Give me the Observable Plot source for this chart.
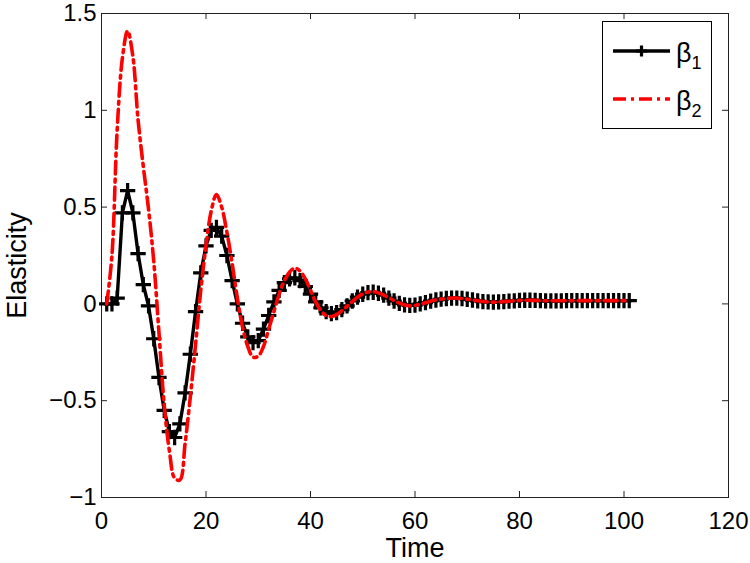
<!DOCTYPE html>
<html><head><meta charset="utf-8">
<script src="https://cdn.jsdelivr.net/npm/d3@7"></script>
<script src="https://cdn.jsdelivr.net/npm/@observablehq/plot@0.6"></script>
<style>
body{margin:0;background:#fff;}
#wrap{position:relative;width:750px;height:563px;font-family:"Liberation Sans",Arial,sans-serif;}
#legend{position:absolute;left:602px;top:21px;}
</style></head><body><div id="wrap"></div>
<script>
const time = [1,2,3,4,5,6,7,8,9,10,11,12,13,14,15,16,17,18,19,20,21,22,23,24,25,26,27,28,29,30,31,32,33,34,35,36,37,38,39,40,41,42,43,44,45,46,47,48,49,50,51,52,53,54,55,56,57,58,59,60,61,62,63,64,65,66,67,68,69,70,71,72,73,74,75,76,77,78,79,80,81,82,83,84,85,86,87,88,89,90,91,92,93,94,95,96,97,98,99,100,101];
const beta1 = [0,0,0.03,0.47,0.585,0.47,0.26,0.10,-0.01,-0.18,
  -0.38,-0.55,-0.66,-0.69,-0.62,-0.46,-0.26,-0.04,0.16,0.30,
  0.38,0.395,0.35,0.25,0.12,0.0,-0.10,-0.17,-0.20,-0.19,
  -0.13,-0.06,0.01,0.07,0.11,0.13,0.135,0.12,0.09,0.05,
  0.01,-0.02,-0.04,-0.05,-0.045,-0.03,-0.01,0.015,0.035,0.05,
  0.058,0.06,0.055,0.045,0.03,0.015,0.003,-0.005,-0.008,-0.006,
  0.0,0.007,0.014,0.02,0.025,0.028,0.03,0.03,0.028,0.024,
  0.02,0.016,0.012,0.01,0.009,0.01,0.012,0.014,0.016,0.018,
  0.019,0.019,0.018,0.017,0.016,0.016,0.016,0.016,0.017,0.017,
  0.017,0.017,0.017,0.017,0.017,0.017,0.017,0.017,0.017,0.017,0.017];
const beta2 = [0,0.25,0.9,1.27,1.41,1.28,0.95,0.71,0.49,0.22,
  -0.15,-0.52,-0.76,-0.90,-0.91,-0.72,-0.48,-0.21,0.07,0.30,
  0.48,0.565,0.50,0.37,0.21,0.03,-0.12,-0.22,-0.275,-0.27,
  -0.22,-0.13,-0.04,0.05,0.12,0.165,0.185,0.17,0.13,0.07,
  0.01,-0.035,-0.06,-0.065,-0.055,-0.035,-0.012,0.012,0.035,0.052,
  0.062,0.063,0.057,0.046,0.032,0.017,0.004,-0.006,-0.01,-0.008,
  -0.002,0.006,0.014,0.02,0.025,0.028,0.03,0.03,0.028,0.024,
  0.02,0.016,0.012,0.01,0.009,0.01,0.012,0.014,0.016,0.018,
  0.019,0.019,0.018,0.017,0.016,0.016,0.016,0.016,0.017,0.017,
  0.017,0.017,0.017,0.017,0.017,0.017,0.017,0.017,0.017,0.017,0.017];
const xTicks = [0,20,40,60,80,100,120];
const yTicks = [-1,-0.5,0,0.5,1,1.5];
const yTickLabels = ["−1","−0.5","0","0.5","1","1.5"];
const seriesNames = ["β", "β"];
const seriesSubs = ["1", "2"];
const seriesColors = ["#000000", "#ff0000"];
const xLabel = "Time";
const yLabel = "Elasticity";

const data1 = time.map((t, i) => ({t, v: beta1[i]}));
const data2 = time.map((t, i) => ({t, v: beta2[i]}));

const W = 750, H = 563, mL = 101, mR = 22, mT = 13, mB = 66;
const fw = W - mL - mR, fh = H - mT - mB;
const tk = 6;
const axisColor = "#222";
const fs = 24;
const lfs = 27;

const chart = Plot.plot({
  width: W, height: H,
  marginLeft: mL, marginRight: mR, marginTop: mT, marginBottom: mB,
  style: {fontFamily: "'Liberation Sans', Arial, sans-serif", fontSize: fs + "px", color: "#000", background: "#fff", overflow: "visible"},
  x: {domain: [0, 120]},
  y: {domain: [-1, 1.5]},
  marks: [
    Plot.frame({stroke: axisColor, strokeWidth: 1}),
    Plot.ruleX(xTicks, {x: d => d, insetTop: fh - tk, stroke: axisColor}),
    Plot.ruleX(xTicks, {x: d => d, insetBottom: fh - tk, stroke: axisColor}),
    Plot.ruleY(yTicks, {y: d => d, insetRight: fw - tk, stroke: axisColor}),
    Plot.ruleY(yTicks, {y: d => d, insetLeft: fw - tk, stroke: axisColor}),
    Plot.axisX({ticks: xTicks, tickSize: 0, tickPadding: 14, label: null, fontSize: fs, tickFormat: d => String(d)}),
    Plot.axisY({ticks: yTicks, tickSize: 0, tickPadding: 5, label: null, fontSize: fs, tickFormat: d => yTickLabels[yTicks.indexOf(d)]}),
    Plot.line(data1, {x: "t", y: "v", stroke: seriesColors[0], strokeWidth: 3.4}),
    Plot.dot(data1, {x: "t", y: "v", symbol: "plus", r: 5, stroke: seriesColors[0], strokeWidth: 3.2}),
    Plot.line(data2, {x: "t", y: "v", stroke: seriesColors[1], strokeWidth: 3.6, strokeDasharray: "13,5,3,5", curve: "catmull-rom"}),
    Plot.text([xLabel], {frameAnchor: "bottom", textAnchor: "middle", lineAnchor: "bottom", dy: 59, fontSize: lfs}),
    Plot.text([yLabel], {frameAnchor: "left", textAnchor: "middle", lineAnchor: "middle", rotate: -90, dx: -84, dy: 10, fontSize: lfs})
  ]
});

const wrap = document.getElementById("wrap");
wrap.appendChild(chart);

// legend
const lg = d3.select(wrap).append("svg").attr("id", "legend")
  .attr("width", 112).attr("height", 110)
  .style("font-family", "'Liberation Sans', Arial, sans-serif");
lg.append("rect").attr("x", 0.5).attr("y", 0.5).attr("width", 109).attr("height", 107)
  .attr("fill", "#fff").attr("stroke", "#000");
seriesNames.forEach((name, i) => {
  const y = 30 + i * 48;
  lg.append("line").attr("x1", 11).attr("x2", 68).attr("y1", y).attr("y2", y)
    .attr("stroke", seriesColors[i]).attr("stroke-width", i === 0 ? 3.4 : 3.6)
    .attr("stroke-dasharray", i === 0 ? null : "13,5,3,5");
  if (i === 0) {
    lg.append("path").attr("d", `M39.5,${y - 5.5}V${y + 5.5}M34,${y}H45`)
      .attr("stroke", seriesColors[i]).attr("stroke-width", 3.2);
  }
  const t = lg.append("text").attr("x", 74).attr("y", y + 11).attr("font-size", 27).attr("fill", "#000");
  t.append("tspan").text(name);
  t.append("tspan").attr("dy", 7).attr("font-size", 18).text(seriesSubs[i]);
});
</script>
</body></html>
